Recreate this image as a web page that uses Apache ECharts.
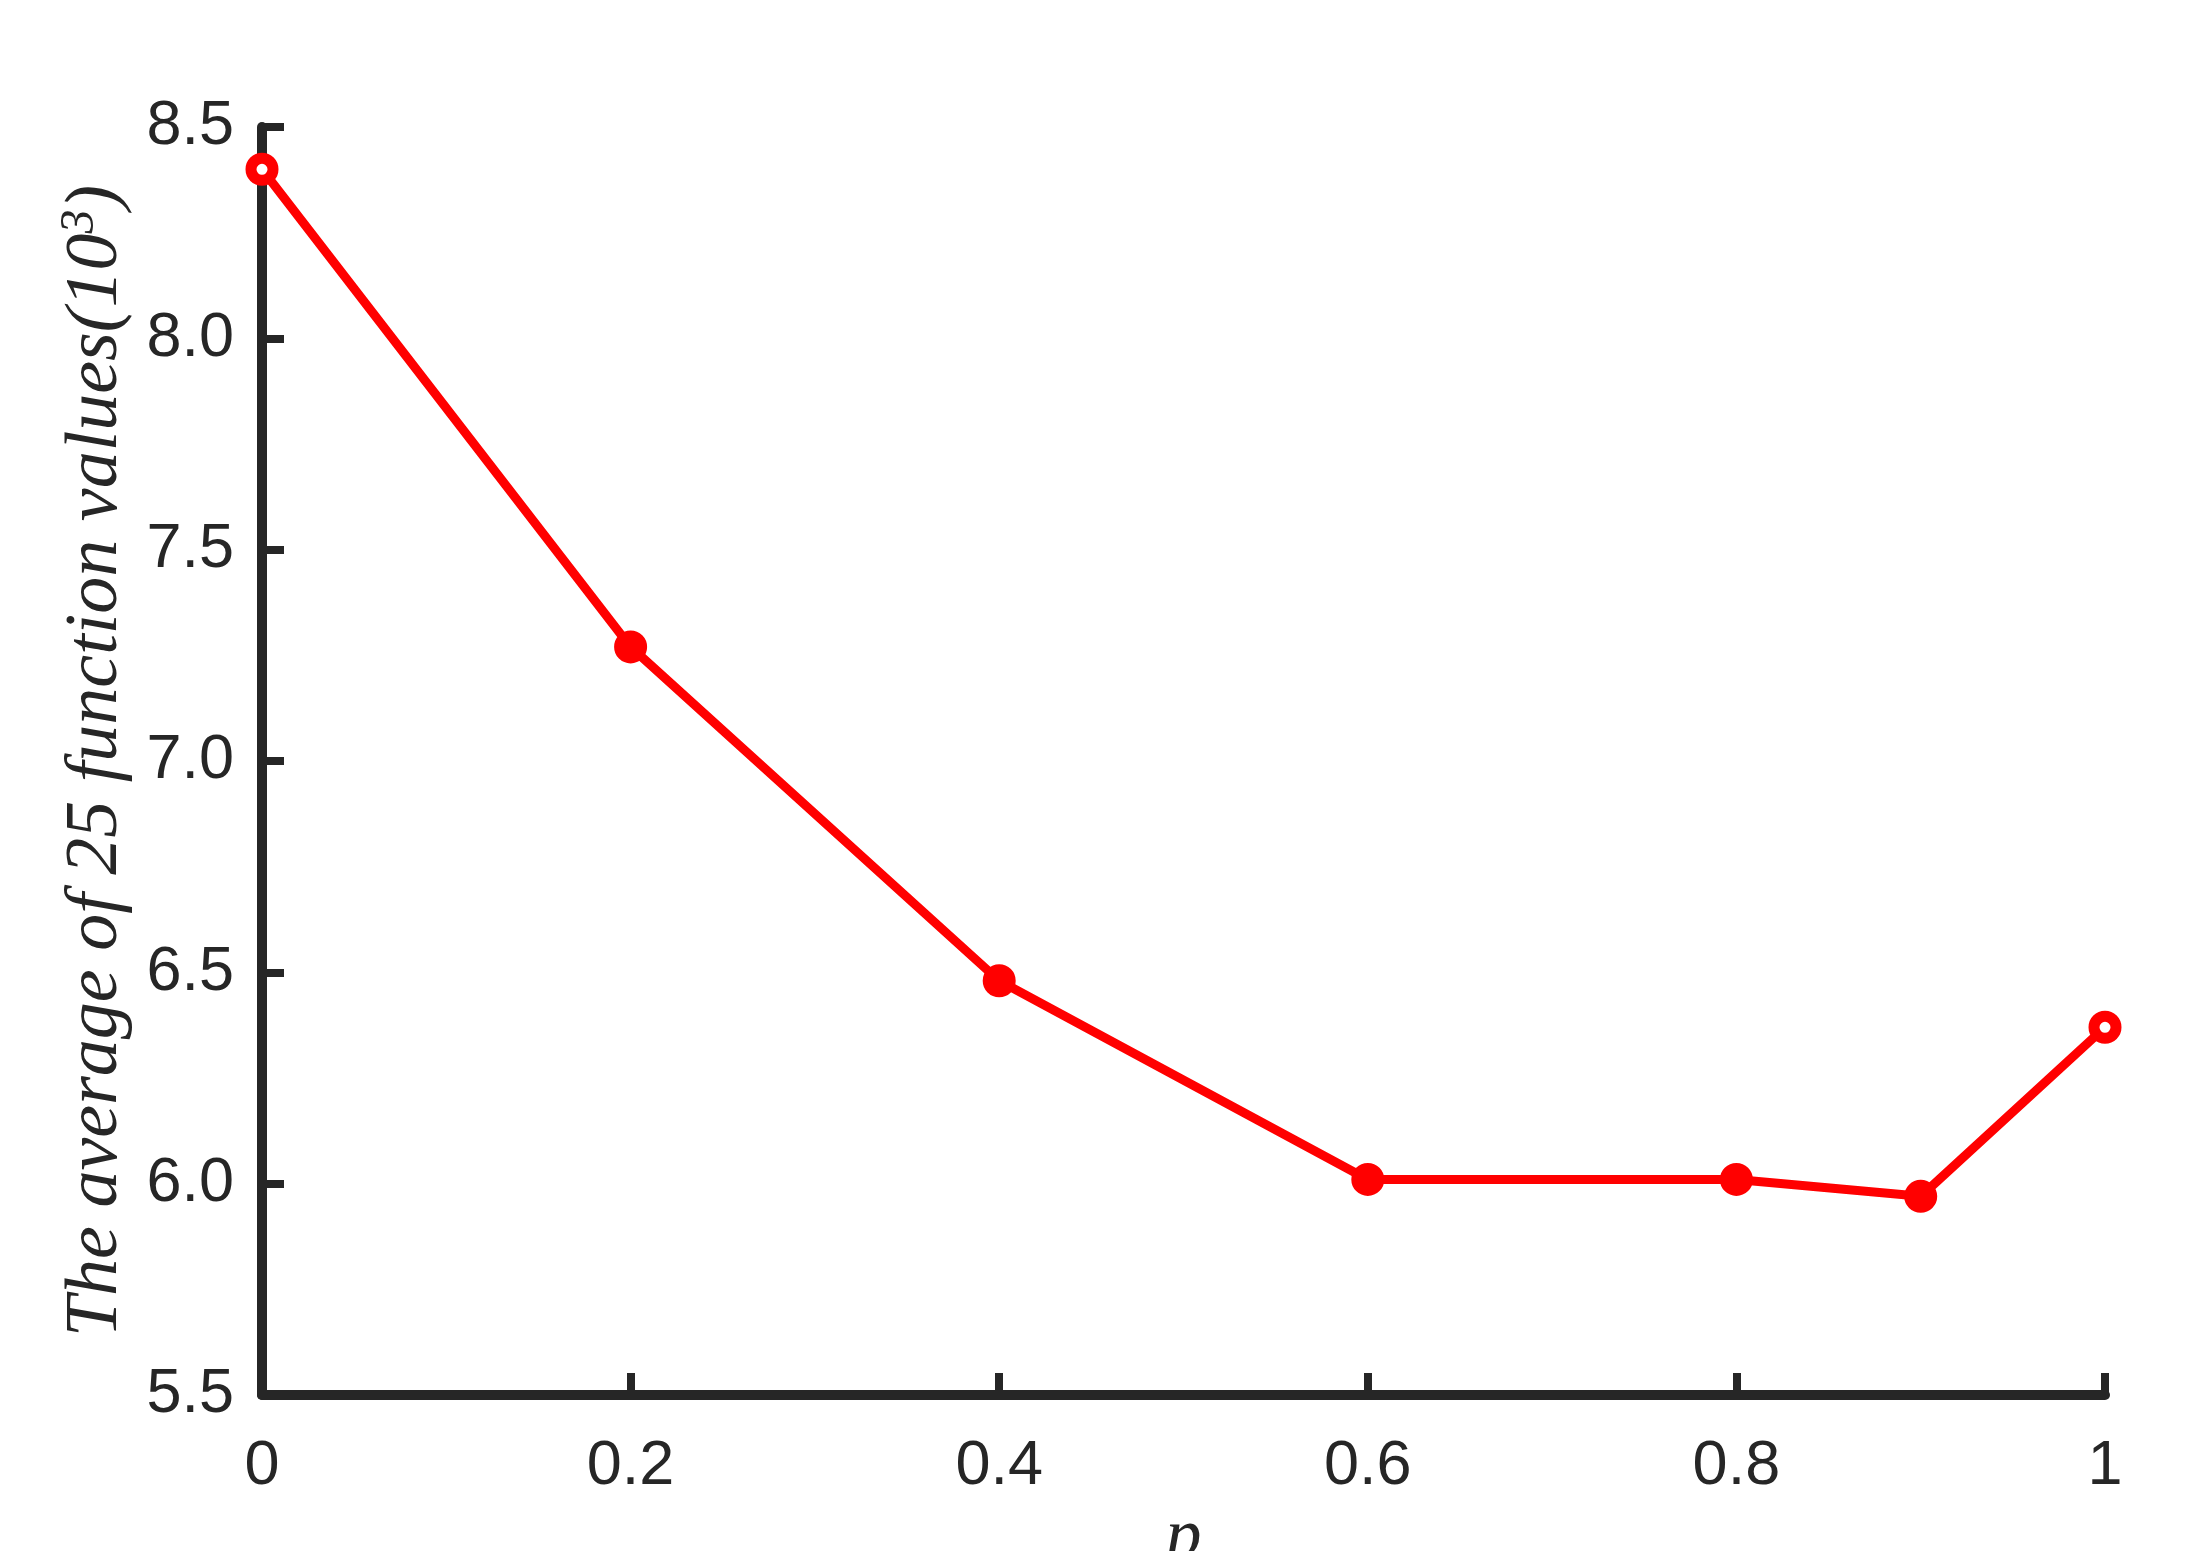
<!DOCTYPE html>
<html><head><meta charset="utf-8">
<script src="https://cdn.jsdelivr.net/npm/echarts@6/dist/echarts.min.js"></script>
<style>html,body{margin:0;padding:0;background:#fff}#c{width:2211px;height:1551px}</style>
</head><body><div id="c"></div>
<script>
const xValues = [0, 0.2, 0.4, 0.6, 0.8, 0.9, 1];
const yValues = [8.40, 7.27, 6.48, 6.01, 6.01, 5.97, 6.37];
const xTicks = [0, 0.2, 0.4, 0.6, 0.8, 1];
const yTicks = [5.5, 6.0, 6.5, 7.0, 7.5, 8.0, 8.5];

const axisColor = '#262626';
const serif = "'Times New Roman', 'Liberation Serif', serif";
const chart = echarts.init(document.getElementById('c'));
const data = xValues.map((x, i) => {
  const hollow = (i === 0 || i === xValues.length - 1);
  return {value: [x, yValues[i]], itemStyle: {color: hollow ? '#ffffff' : '#ff0000'}};
});
chart.setOption({
  animation: false,
  backgroundColor: '#ffffff',
  grid: {left: 262, right: 106, top: 127, bottom: 156, containLabel: false, outerBoundsMode: 'none'},
  xAxis: {
    type: 'value', min: 0, max: 1, interval: 0.2,
    axisLine: {show: true, onZero: false, lineStyle: {color: axisColor, width: 10}},
    axisTick: {show: true, inside: true, length: 22, lineStyle: {color: axisColor, width: 8}},
    splitLine: {show: false},
    axisLabel: {color: axisColor, fontFamily: 'Liberation Sans', fontSize: 63, margin: 40,
      formatter: v => xTicks.includes(+v.toFixed(1)) ? String(+v.toFixed(1)) : ''},
    name: 'p', nameLocation: 'middle', nameGap: 105,
    nameTextStyle: {fontFamily: serif, fontStyle: 'italic', fontSize: 72, color: axisColor}
  },
  yAxis: {
    type: 'value', min: 5.5, max: 8.5, interval: 0.5,
    axisLine: {show: true, lineStyle: {color: axisColor, width: 10}},
    axisTick: {show: true, inside: true, length: 22, lineStyle: {color: axisColor, width: 8}},
    splitLine: {show: false},
    axisLabel: {color: axisColor, fontFamily: 'Liberation Sans', fontSize: 63, margin: 28,
      formatter: v => yTicks.includes(+v.toFixed(1)) ? v.toFixed(1) : ''},
    name: 'The average of 25 function values(10{sup|3})', nameLocation: 'middle', nameGap: 124,
    nameRotate: 90,
    nameTextStyle: {fontFamily: serif, fontStyle: 'italic', fontSize: 74, color: axisColor,
      rich: {sup: {fontFamily: serif, fontStyle: 'italic', fontSize: 48, color: axisColor, verticalAlign: 'top', padding: [0, 0, 34, 0]}}}
  },
  series: [{
    type: 'line', data: data,
    lineStyle: {color: '#ff0000', width: 9},
    symbol: 'circle', symbolSize: 22,
    itemStyle: {borderColor: '#ff0000', borderWidth: 11},
    z: 5
  }]
});
</script>
</body></html>
